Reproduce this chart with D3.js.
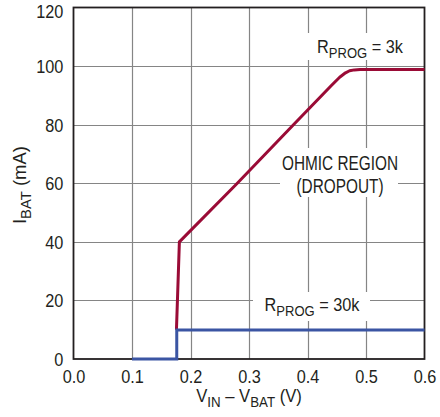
<!DOCTYPE html>
<html>
<head>
<meta charset="utf-8">
<script src="https://cdn.jsdelivr.net/npm/d3@7"></script>
<style>
  html, body { margin: 0; padding: 0; background: #fff; }
  svg text { font-family: "Liberation Sans", Arial, sans-serif; fill: #231f20; }
</style>
</head>
<body>
<svg id="chart" width="440" height="417"></svg>
<script>
// Charge current vs. headroom voltage for two RPROG settings
const xTicks = [0.0, 0.1, 0.2, 0.3, 0.4, 0.5, 0.6];
const yTicks = [0, 20, 40, 60, 80, 100, 120];

// RPROG = 3k (mA)
const vHigh = [0.176, 0.181, 0.28, 0.376, 0.44, 0.455, 0.465, 0.472, 0.48, 0.49, 0.6];
const iHigh = [10, 40, 60, 80, 93.2, 96.2, 97.7, 98.4, 98.7, 98.8, 98.8];

// RPROG = 30k (mA)
const vLow = [0.1, 0.1765, 0.1765, 0.6];
const iLow = [0, 0, 9.9, 9.9];

const svg = d3.select("#chart");
const pL = 73.5, pR = 424.5, pT = 7.5, pB = 359;
const x = d3.scaleLinear().domain([0, 0.6]).range([pL, pR]);
const y = d3.scaleLinear().domain([0, 120]).range([pB, pT]);
const FS = 18.5;
const SX = 0.88;      // condensed look for the sans face

// grid
const grid = svg.append("g").attr("stroke", "#858585").attr("stroke-width", 1.2);
xTicks.slice(1, -1).forEach(t => grid.append("line")
  .attr("x1", Math.round(x(t)) + 0.5).attr("x2", Math.round(x(t)) + 0.5)
  .attr("y1", pT).attr("y2", pB));
yTicks.slice(1, -1).forEach(t => grid.append("line")
  .attr("y1", Math.round(y(t)) + 0.5).attr("y2", Math.round(y(t)) + 0.5)
  .attr("x1", pL).attr("x2", pR));

// white label boxes that break the grid
const boxes = [
  [303, 33, 112, 27],
  [280, 148, 118, 49],
  [253, 292, 117, 29]
];
svg.append("g").selectAll("rect").data(boxes).join("rect")
  .attr("x", d => d[0]).attr("y", d => d[1])
  .attr("width", d => d[2]).attr("height", d => d[3])
  .attr("fill", "#fff");

// axes with tick labels, no tick marks
const xAxis = d3.axisBottom(x).tickValues(xTicks).tickFormat(d3.format(".1f")).tickSize(0).tickPadding(9);
const yAxis = d3.axisLeft(y).tickValues(yTicks).tickFormat(d3.format("d")).tickSize(0).tickPadding(11.5);
const gx = svg.append("g").attr("transform", `translate(0,${pB})`).call(xAxis);
const gy = svg.append("g").attr("transform", `translate(${pL},0)`).call(yAxis);
[gx, gy].forEach(g => {
  g.select(".domain").remove();
  g.selectAll("text").attr("font-size", FS).attr("font-family", null).attr("fill", "#231f20")
    .attr("transform", `scale(${SX},1)`);
});
gx.selectAll("text").attr("dy", "0.8em");
gy.selectAll("text").attr("dy", d => d === 120 ? "0.55em" : "0.35em");

// frame
svg.append("rect").attr("x", pL).attr("y", pT)
  .attr("width", pR - pL).attr("height", pB - pT)
  .attr("fill", "none").attr("stroke", "#231f20").attr("stroke-width", 1.8);

const line = d3.line().x(d => x(d[0])).y(d => y(d[1]));
svg.append("path").datum(d3.zip(vHigh, iHigh))
  .attr("d", line).attr("fill", "none")
  .attr("stroke", "#9a0b36").attr("stroke-width", 3).attr("stroke-linejoin", "round");
svg.append("path").datum(d3.zip(vLow, iLow))
  .attr("d", line).attr("fill", "none")
  .attr("stroke", "#3b55a3").attr("stroke-width", 3).attr("stroke-linejoin", "miter");

// labels with subscripts
function subLabel(xPos, yPos, parts, opts = {}) {
  const sx = opts.sx || SX;
  const fs = opts.fs || FS;
  const rot = opts.rotate ? " rotate(-90)" : "";
  const t = svg.append("text").attr("font-size", fs).attr("text-anchor", "middle")
    .attr("transform", `translate(${xPos},${yPos})${rot} scale(${sx},1)`);
  let shifted = 0;
  parts.forEach(([s, sub]) => {
    const ts = t.append("tspan").text(s);
    if (sub && !shifted) { ts.attr("dy", 5).attr("font-size", fs * 0.8); shifted = 1; }
    else if (sub) { ts.attr("font-size", fs * 0.8); }
    else if (!sub && shifted) { ts.attr("dy", -5); shifted = 0; }
  });
  return t;
}

subLabel(360, 53, [["R"], ["PROG", 1], [" = 3k"]]);
subLabel(312, 311, [["R"], ["PROG", 1], [" = 30k"]]);
subLabel(340, 170, [["OHMIC REGION"]], { sx: 0.75, fs: 20.5 });
subLabel(340, 193, [["(DROPOUT)"]], { sx: 0.75, fs: 20.5 });

subLabel(249, 402, [["V"], ["IN", 1], [" – V"], ["BAT", 1], [" (V)"]], { sx: 0.9 });
subLabel(26, 185, [["I"], ["BAT", 1], [" (mA)"]], { rotate: true, sx: 1.0 });
</script>
</body>
</html>
